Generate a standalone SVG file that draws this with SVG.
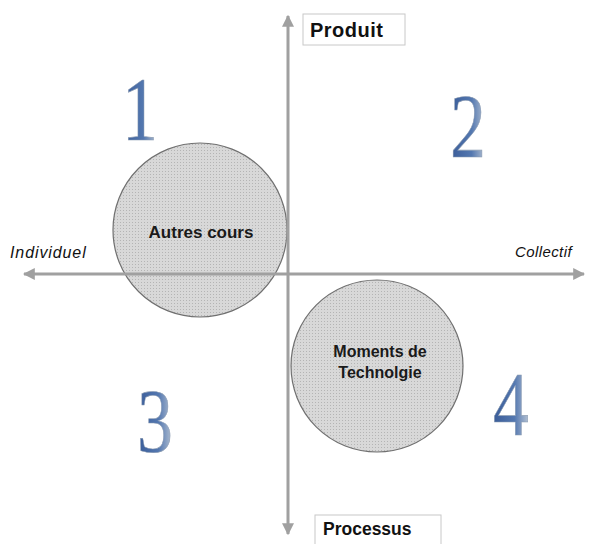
<svg xmlns="http://www.w3.org/2000/svg" width="589" height="544" viewBox="0 0 589 544">
<style>
.axis{stroke:#a0a0a0;stroke-width:3;fill:none}
.circ{fill:url(#dots);stroke:#707070;stroke-width:1.2}
.lbl{font-family:"Liberation Sans",Arial,sans-serif;font-weight:bold;fill:#1a1a1a;text-anchor:middle}
.box-t{font-family:"Liberation Sans",Arial,sans-serif;font-weight:bold;fill:#111}
.side{font-family:"Liberation Sans",Arial,sans-serif;font-style:italic;font-size:15px;fill:#111}
.num{font-family:"Liberation Serif","Times New Roman",serif;font-size:92px;fill:url(#blue);stroke:#8a9ab0;stroke-width:0.6;text-anchor:middle}
.box{fill:#fff;stroke:#c8c8c8;stroke-width:1}
</style>
<defs>
<linearGradient id="blue" x1="0" y1="0" x2="1" y2="0">
<stop offset="0" stop-color="#3a5c98"/>
<stop offset="0.6" stop-color="#5478b0"/>
<stop offset="1" stop-color="#b8c4d4"/>
</linearGradient>
<pattern id="dots" width="3" height="3" patternUnits="userSpaceOnUse">
<rect width="3" height="3" fill="#d8d8d8"/>
<rect width="1" height="1" fill="#b4b4b4"/>
</pattern>
<marker id="ah" viewBox="0 0 10 10" refX="9" refY="5" markerWidth="4" markerHeight="4" orient="auto-start-reverse" markerUnits="strokeWidth">
<path d="M0,0 L10,5 L0,10 z" fill="#a0a0a0"/>
</marker>
</defs>
<rect width="589" height="544" fill="#fff"/>
<g id="n1"><circle class="circ" cx="200" cy="230" r="87"/><text class="lbl" x="201" y="238" font-size="17">Autres cours</text></g>
<g id="n2"><circle class="circ" cx="377" cy="366" r="86"/><text class="lbl" x="380" y="357" font-size="16">Moments de</text><text class="lbl" x="380" y="378" font-size="16">Technolgie</text></g>
<g id="connectors">
<line class="axis" x1="288" y1="530" x2="288" y2="16" marker-end="url(#ah)"/>
<line class="axis" x1="288" y1="530" x2="288" y2="534" marker-end="url(#ah)"/>
<line class="axis" x1="24" y1="274" x2="584" y2="274" marker-start="url(#ah)" marker-end="url(#ah)"/>
</g>
<g id="produit"><rect class="box" x="303" y="14" width="102" height="31"/><text class="box-t" x="310" y="37" font-size="20" letter-spacing="0.5">Produit</text></g>
<g id="processus"><rect class="box" x="315" y="515" width="126" height="32"/><text class="box-t" x="323" y="535" font-size="17.5">Processus</text></g>
<g id="individuel"><text class="side" x="10" y="258" font-size="16" style="font-size:16px" letter-spacing="0.9">Individuel</text></g>
<g id="collectif"><text class="side" x="515" y="257" letter-spacing="0.4">Collectif</text></g>
<g id="q1"><text class="num" transform="translate(140,140) scale(0.78,1)">1</text></g>
<g id="q2"><text class="num" transform="translate(468,157) scale(0.78,1)">2</text></g>
<g id="q3"><text class="num" transform="translate(155,452) scale(0.78,1)">3</text></g>
<g id="q4"><text class="num" transform="translate(511,435) scale(0.78,1)">4</text></g>
</svg>
